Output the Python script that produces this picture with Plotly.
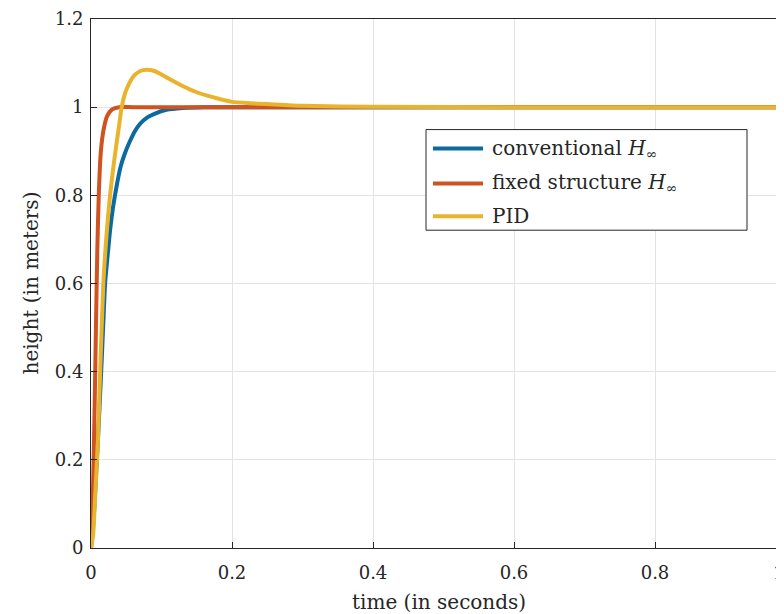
import plotly.graph_objects as go

# time samples (s) and responses
t_conv = [0, 0.003, 0.005, 0.008, 0.010, 0.013, 0.015, 0.018, 0.020, 0.024, 0.027, 0.031, 0.034,
          0.038, 0.042, 0.048, 0.055, 0.062, 0.070, 0.080, 0.090, 0.107, 0.130, 0.160, 0.200, 0.300, 0.500, 1.0]
y_conv = [0, 0.05, 0.10, 0.19, 0.25, 0.35, 0.42, 0.53, 0.60, 0.67, 0.72, 0.77, 0.80,
          0.835, 0.865, 0.895, 0.922, 0.945, 0.963, 0.977, 0.985, 0.994, 0.998, 1.0, 1.0, 1.0, 1.0, 1.0]

t_fixed = [0, 0.002, 0.004, 0.006, 0.007, 0.009, 0.011, 0.014, 0.018, 0.023, 0.030, 0.040, 0.060, 0.200, 0.500, 1.0]
y_fixed = [0, 0.08, 0.22, 0.40, 0.50, 0.68, 0.80, 0.90, 0.95, 0.98, 0.995, 1.0, 1.0, 1.0, 1.0, 1.0]

t_pid = [0, 0.003, 0.006, 0.010, 0.013, 0.0175, 0.022, 0.027, 0.033, 0.040, 0.0435, 0.048, 0.053, 0.062,
         0.070, 0.079, 0.090, 0.100, 0.110, 0.130, 0.148, 0.165, 0.181, 0.200, 0.225, 0.250, 0.300, 0.400, 0.600, 1.0]
y_pid = [0, 0.03, 0.12, 0.25, 0.40, 0.60, 0.71, 0.80, 0.88, 0.96, 1.0, 1.03, 1.05, 1.073,
         1.082, 1.085, 1.082, 1.074, 1.065, 1.048, 1.035, 1.026, 1.019, 1.012, 1.009, 1.007, 1.003, 1.001, 1.0, 1.0]

names = ["conventional <i>H</i><sub>∞</sub>", "fixed structure <i>H</i><sub>∞</sub>", "PID"]
colors = ["#0b6a9e", "#cf5220", "#e9b42c"]

x_ticks = [0, 0.2, 0.4, 0.6, 0.8]
x_ticklabels = ["0", "0.2", "0.4", "0.6", "0.8"]
y_ticks = [0, 0.2, 0.4, 0.6, 0.8, 1.0, 1.2]
y_ticklabels = ["0", "0.2", "0.4", "0.6", "0.8", "1", "1.2"]

font_family = "DejaVu Serif, Liberation Serif, serif"
TXT = "#262626"

fig = go.Figure()
for i, (tx, ty, nm, c) in enumerate([(t_conv, y_conv, names[0], colors[0]),
                                     (t_fixed, y_fixed, names[1], colors[1]),
                                     (t_pid, y_pid, names[2], colors[2])]):
    fig.add_trace(go.Scatter(x=tx, y=ty, mode="lines", name=nm, showlegend=False,
                             line=dict(color=c, width=4, shape="spline", smoothing=0.6)))

# body has an 8px margin in the page, so the div is shifted by 8px
W, H = 776, 606
L, T, B = 83, 9, 66
fig.update_layout(
    width=W, height=H,
    margin=dict(l=L, r=0, t=T, b=B),
    paper_bgcolor="white", plot_bgcolor="white",
    font=dict(family=font_family, size=18, color=TXT),
    showlegend=False,
)
fig.update_xaxes(
    range=[0, 693 / 705], tickvals=x_ticks, ticktext=x_ticklabels,
    showgrid=True, gridcolor="#e3e3e3", gridwidth=1,
    showline=True, linecolor=TXT, linewidth=1, mirror=True,
    ticks="inside", ticklen=6, tickcolor=TXT, zeroline=False,
    ticklabelstandoff=8, ticklabeloverflow="allow",
)
fig.update_yaxes(
    range=[0, 1.2], tickvals=y_ticks, ticktext=y_ticklabels,
    showgrid=True, gridcolor="#e3e3e3", gridwidth=1,
    showline=True, linecolor=TXT, linewidth=1, mirror=False,
    ticks="inside", ticklen=6, tickcolor=TXT, zeroline=False,
    ticklabelstandoff=3, ticklabeloverflow="allow",
)

# helpers: page pixel -> paper coords (plot area: x 91..784(+), y 17..548)
def px(xp):
    return (xp - 91) / 693
def py(yp):
    return (548 - yp) / 531

# axis titles
fig.add_annotation(x=px(438.5), y=0, xref="paper", yref="paper",
                   text="time (in seconds)", showarrow=False, yanchor="middle", yshift=-54,
                   font=dict(size=20, color=TXT))
fig.add_annotation(x=0, y=0.5, xref="paper", yref="paper", textangle=-90,
                   text="height (in meters)", showarrow=False, xanchor="center", xshift=-61,
                   font=dict(size=20, color=TXT))
# partially visible "1" tick label at the right edge
fig.add_annotation(x=px(786), y=0, xref="paper", yref="paper",
                   text="1", showarrow=False, yanchor="top", yshift=-12,
                   font=dict(size=18, color=TXT))

# legend drawn as box + sample lines + labels
fig.add_shape(type="rect", xref="paper", yref="paper",
              x0=px(426), x1=px(747), y0=py(229), y1=py(128),
              line=dict(color=TXT, width=1), fillcolor="white", layer="above")
row_y = [147, 182, 215]
for nm, c, ry in zip(names, colors, row_y):
    fig.add_shape(type="line", xref="paper", yref="paper",
                  x0=px(433), x1=px(483), y0=py(ry), y1=py(ry),
                  line=dict(color=c, width=4), layer="above")
    fig.add_annotation(x=px(490), y=py(ry), xref="paper", yref="paper",
                       text=nm, showarrow=False, xanchor="left", yanchor="middle",
                       font=dict(size=20, color=TXT))
fig.write_html("out.html")
